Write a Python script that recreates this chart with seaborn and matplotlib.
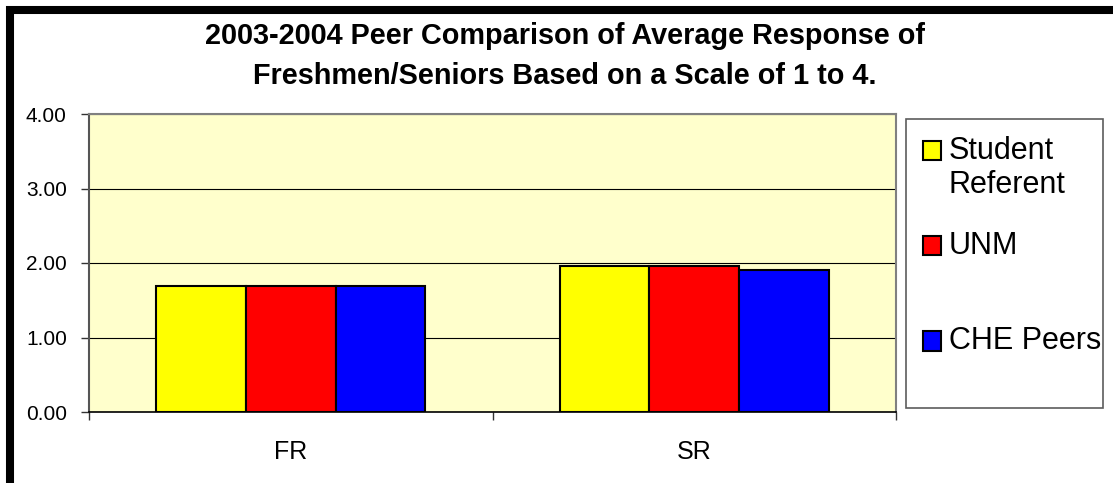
import matplotlib
matplotlib.use("Agg")
import matplotlib.pyplot as plt
import matplotlib.patches as mpatches
from matplotlib.legend_handler import HandlerPatch
import seaborn as sns
import pandas as pd

# Data
classes = ["FR", "SR"]
groups = ["Student Referent", "UNM", "CHE Peers"]
student_referent = [1.69, 1.96]
unm = [1.69, 1.96]
che_peers = [1.69, 1.90]
y_ticks = [0, 1, 2, 3, 4]
y_tick_labels = ["0.00", "1.00", "2.00", "3.00", "4.00"]
legend_labels = ["Student\nReferent", "UNM\n ", "CHE Peers\n "]
colors = {"Student Referent": "#FFFF00", "UNM": "#FF0000", "CHE Peers": "#0000FF"}

rows = []
for g, vals in zip(groups, [student_referent, unm, che_peers]):
    for c, v in zip(classes, vals):
        rows.append({"cls": c, "group": g, "value": v})
df = pd.DataFrame(rows)

sns.set_theme(style="white")
plt.rcParams["font.family"] = ["Liberation Sans", "DejaVu Sans"]
plt.rcParams["text.color"] = "black"
plt.rcParams["axes.labelcolor"] = "black"
plt.rcParams["xtick.color"] = "black"
plt.rcParams["ytick.color"] = "black"

W, H = 1113, 483
fig = plt.figure(figsize=(W / 100, H / 100), dpi=100)
fig.patch.set_facecolor("white")

# plot area in pixels: x 89..896, y 114..412
ax = fig.add_axes([89 / W, 1 - 412 / H, (896 - 89) / W, (412 - 114) / H])
ax.set_facecolor("#FFFFCC")

sns.barplot(data=df, x="cls", y="value", hue="group", order=classes,
            hue_order=groups, palette=colors, width=0.667, saturation=1,
            edgecolor="black", linewidth=1.5, legend=False, ax=ax, zorder=3)

ax.set_xlim(-0.5, 1.5)
ax.set_ylim(0, 4)
ax.set_yticks(y_ticks)
ax.set_yticklabels(y_tick_labels)
ax.set_xlabel("")
ax.set_ylabel("")

ax.yaxis.grid(True, color="black", linewidth=0.8, zorder=1)
ax.set_axisbelow(True)

ax.tick_params(axis="y", which="major", left=True, length=6, width=1,
               color="#333333", pad=10, labelsize=15, labelcolor="black")
ax.tick_params(axis="x", which="major", length=0, pad=20, labelsize=18,
               labelcolor="black")
ax.set_xticks([-0.5, 0.5, 1.5], minor=True)
ax.tick_params(axis="x", which="minor", bottom=True, length=6, width=1,
               color="#333333")

for side in ["top", "right"]:
    ax.spines[side].set_color("#808080")
    ax.spines[side].set_linewidth(1.5)
ax.spines["left"].set_color("#555555")
ax.spines["left"].set_linewidth(1.5)
ax.spines["bottom"].set_color("black")
ax.spines["bottom"].set_linewidth(1.2)

# title
fig.text(565 / W, 1 - 56 / H,
         "2003-2004 Peer Comparison of Average Response of\n"
         "Freshmen/Seniors Based on a Scale of 1 to 4.",
         ha="center", va="center", fontsize=20.8, fontweight="bold",
         color="black", linespacing=1.5)


# legend: square swatch aligned with first text line
def square(legend, orig_handle, xdescent, ydescent, width, height, fontsize):
    return mpatches.Rectangle((-xdescent, -ydescent + 0.6 * fontsize),
                              width, height)


handles = [mpatches.Patch(facecolor=colors[g], edgecolor="black", linewidth=1.5)
           for g in groups]
leg = fig.legend(handles, legend_labels, loc="upper left",
                 bbox_to_anchor=(906 / W, 1 - 119 / H, 197 / W, 0.0),
                 mode="expand", borderaxespad=0, fontsize=22,
                 handlelength=0.6, handleheight=0.6, handletextpad=0.25,
                 borderpad=0.55, labelspacing=1.0, frameon=True,
                 fancybox=False, shadow=False, labelcolor="black",
                 handler_map={mpatches.Patch: HandlerPatch(patch_func=square)})
leg.get_frame().set_edgecolor("#333333")
leg.get_frame().set_linewidth(1.2)
leg.get_frame().set_facecolor("white")

# outer chart border (cropped at right and bottom)
fig.patches.append(mpatches.Rectangle((10 / W, -0.2), 1.5, (H - 10) / H + 0.2,
                                      transform=fig.transFigure, fill=False,
                                      edgecolor="black", linewidth=5.8))

fig.savefig("out.png", dpi=100)
